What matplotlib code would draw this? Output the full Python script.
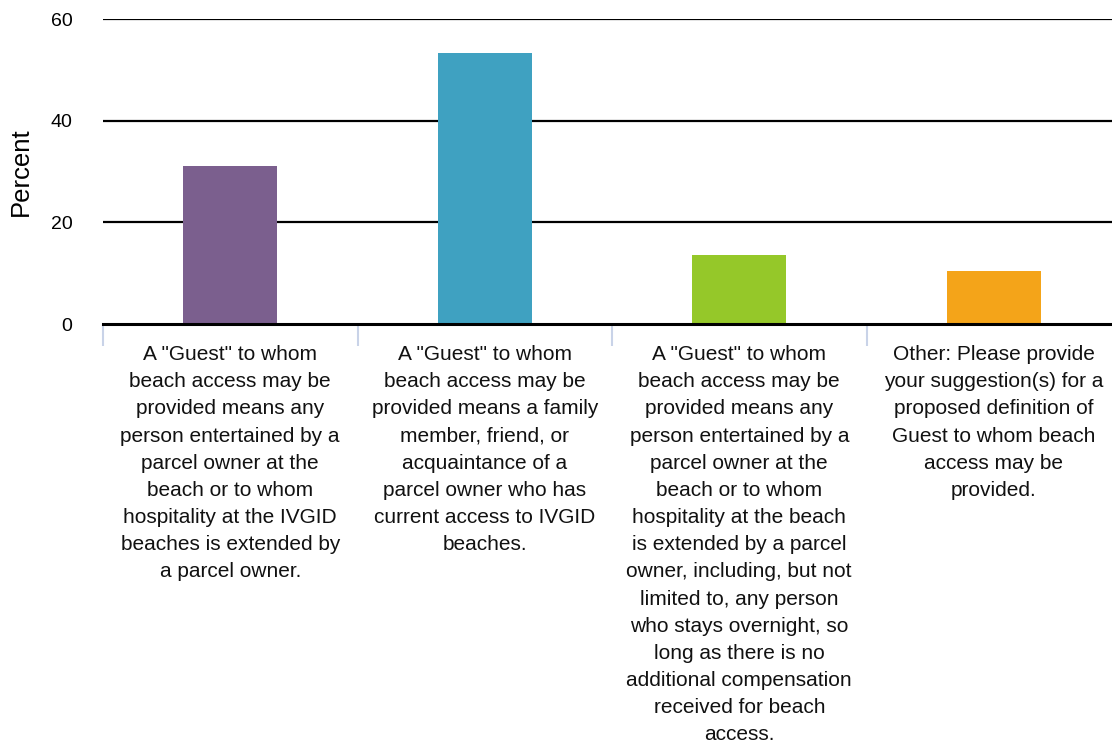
import matplotlib
matplotlib.use("Agg")
import matplotlib.pyplot as plt
import matplotlib.transforms as mtransforms

plt.rcParams['font.family'] = ['Liberation Sans', 'DejaVu Sans']

categories = [
    'A "Guest" to whom\nbeach access may be\nprovided means any\nperson entertained by a\nparcel owner at the\nbeach or to whom\nhospitality at the IVGID\nbeaches is extended by\na parcel owner.',
    'A "Guest" to whom\nbeach access may be\nprovided means a family\nmember, friend, or\nacquaintance of a\nparcel owner who has\ncurrent access to IVGID\nbeaches.',
    'A "Guest" to whom\nbeach access may be\nprovided means any\nperson entertained by a\nparcel owner at the\nbeach or to whom\nhospitality at the beach\nis extended by a parcel\nowner, including, but not\nlimited to, any person\nwho stays overnight, so\nlong as there is no\nadditional compensation\nreceived for beach\naccess.',
    'Other: Please provide\nyour suggestion(s) for a\nproposed definition of\nGuest to whom beach\naccess may be\nprovided.',
]
percent = [31.1, 53.3, 13.6, 10.4]
colors = ['#7b5f8e', '#3fa1c1', '#95c829', '#f4a419']
yticks = [0, 20, 40, 60]

fig = plt.figure(figsize=(11.12, 7.44), dpi=100)
# plot area runs past the right edge of the image, as in the original
ax = fig.add_axes([103 / 1112, 1 - 324 / 744, 1018 / 1112, 305 / 744])

x = list(range(len(percent)))
ax.bar(x, percent, width=0.37, color=colors, zorder=3)

ax.set_xlim(-0.5, len(percent) - 0.5)
ax.set_ylim(0, 60)
ax.set_yticks(yticks)
ax.tick_params(axis='y', length=0, labelsize=14, pad=22)
for t in yticks[1:]:
    ax.axhline(t, color='black', lw=1.6, zorder=1)
ax.axhline(0, color='black', lw=2.2, zorder=4, clip_on=False)

for s in ax.spines.values():
    s.set_visible(False)

# category boundary ticks
ax.set_xticks([i - 0.5 for i in range(len(percent) + 1)])
ax.set_xticklabels([])
ax.tick_params(axis='x', length=16, width=1.5, color='#c9d3e8', direction='out')

trans = mtransforms.blended_transform_factory(ax.transData, ax.transAxes)
for i, lab in enumerate(categories):
    ax.text(i, -0.069, lab, transform=trans, ha='center', va='top',
            fontsize=15, linespacing=1.545, color='#111111')

ax.set_ylabel('Percent', fontsize=18.5, labelpad=13)

fig.savefig('out.png', dpi=100)
